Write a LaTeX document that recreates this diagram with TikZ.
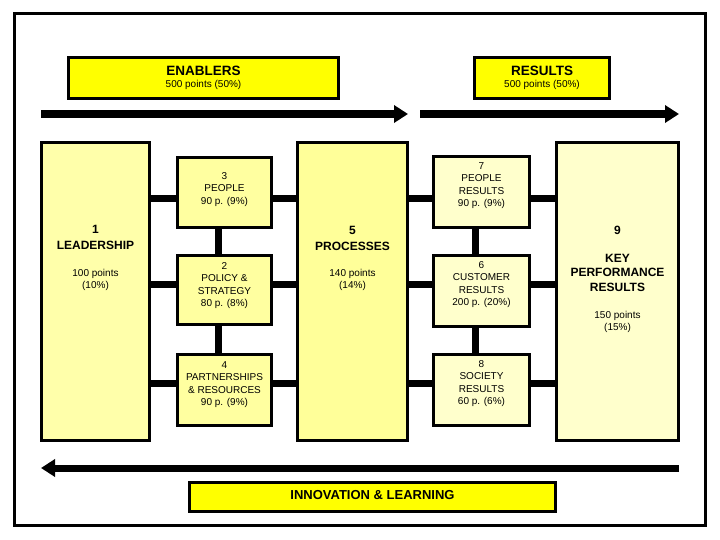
\documentclass[tikz,border=0pt]{standalone}
\usepackage{fontspec}
\setmainfont{Liberation Sans}
\usetikzlibrary{arrows.meta}
\definecolor{hdryellow}{HTML}{FFFF00}
\definecolor{leadc}{HTML}{FFFFAA}
\definecolor{procc}{HTML}{FFFF99}
\definecolor{kprc}{HTML}{FFFFCC}
\definecolor{lsmall}{HTML}{FFFFA0}
\definecolor{rsmall}{HTML}{FFFFCC}
\begin{document}
\begin{tikzpicture}[x=1pt,y=-1pt,
  outerframe/.style={draw, line width=3pt},
  hdrbox/.style={draw, line width=2.5pt, fill=hdryellow, inner sep=0pt},
  colbox/.style={draw, line width=3pt, inner sep=0pt, minimum height=297pt},
  smallbox/.style={draw, line width=3pt, inner sep=0pt, minimum width=94pt},
  conn/.style={line width=7pt},
  bigarrow/.style={line width=8pt, -{Triangle[length=14pt,width=17pt]}},
  smalltxt/.style={font=\fontsize{10}{12.3}\selectfont, align=center, inner sep=0pt, anchor=north},
  pointstxt/.style={font=\fontsize{10}{12}\selectfont, align=center, inner sep=0pt, anchor=north},
  titletxt/.style={font=\fontsize{12}{16}\selectfont\bfseries, align=center, inner sep=0pt, anchor=north},
  hdrtxt/.style={font=\fontsize{13.5}{16}\selectfont\bfseries, inner sep=0pt, anchor=north}
]
\useasboundingbox (0,0) rectangle (720,540);
\fill[white] (0,0) rectangle (720,540);
\draw[outerframe] (14,14) rectangle (705,525);

% header boxes
\node[hdrbox, minimum width=270pt, minimum height=41pt] (enab) at (203.5,78) {};
\node[hdrtxt] (enabt) at (203.5,66.2) {ENABLERS};
\node[smalltxt] (enabp) at (203.5,80.4) {500 points (50\%)};
\node[hdrbox, minimum width=135pt, minimum height=41pt] (res) at (542,78) {};
\node[hdrtxt] (rest) at (542,66.2) {RESULTS};
\node[smalltxt] (resp) at (542,80.4) {500 points (50\%)};

% top arrows
\coordinate (a1s) at (41,114);
\coordinate (a1e) at (408,114);
\coordinate (a2s) at (420,114);
\coordinate (a2e) at (679,114);
\draw[bigarrow] (a1s) -- (a1e);
\draw[bigarrow] (a2s) -- (a2e);

% columns
\node[colbox, fill=leadc, minimum width=108pt] (lead) at (95.5,291.5) {};
\node[colbox, fill=procc, minimum width=110pt] (proc) at (352.5,291.5) {};
\node[colbox, fill=kprc, minimum width=122pt] (kpr) at (617.5,291.5) {};

\node[titletxt] at (95.5,224.7) {1\\LEADERSHIP};
\node[pointstxt] at (95.5,269.4) {100 points\\(10\%)};
\node[titletxt] at (352.5,225.7) {5\\PROCESSES};
\node[pointstxt] at (352.5,269.4) {140 points\\(14\%)};
\node[titletxt] at (617.5,225.7) {9};
\node[titletxt, font=\fontsize{12}{14.5}\selectfont\bfseries] at (617.5,253.7) {KEY\\PERFORMANCE\\RESULTS};
\node[pointstxt] at (617.5,311.4) {150 points\\(15\%)};

% small enabler boxes
\node[smallbox, fill=lsmall, minimum height=70pt] (p3) at (224.5,192.5) {};
\node[smallbox, fill=lsmall, minimum height=69pt] (p2) at (224.5,290) {};
\node[smallbox, fill=lsmall, minimum height=71pt] (p4) at (224.5,390) {};
\node[smalltxt] at (224.5,172.4) {3\\PEOPLE\\90 p. (9\%)};
\node[smalltxt] at (224.5,262.4) {2\\POLICY \&\\STRATEGY\\80 p. (8\%)};
\node[smalltxt] at (224.5,361.4) {4\\PARTNERSHIPS\\\& RESOURCES\\90 p. (9\%)};

% small result boxes
\node[smallbox, fill=rsmall, minimum width=96pt, minimum height=71pt] (r7) at (481.5,192) {};
\node[smallbox, fill=rsmall, minimum width=96pt, minimum height=71pt] (r6) at (481.5,291) {};
\node[smallbox, fill=rsmall, minimum width=96pt, minimum height=71pt] (r8) at (481.5,390) {};
\node[smalltxt] at (481.5,162.4) {7\\PEOPLE\\RESULTS\\90 p. (9\%)};
\node[smalltxt] at (481.5,261.4) {6\\CUSTOMER\\RESULTS\\200 p. (20\%)};
\node[smalltxt] at (481.5,360.4) {8\\SOCIETY\\RESULTS\\60 p. (6\%)};

% connector rows and columns
\coordinate (row1) at (0,199);
\coordinate (row2) at (0,284);
\coordinate (row3) at (0,383);
\coordinate (colL) at (218,0);
\coordinate (colR) at (475,0);

\draw[conn] (row1 -| lead.east) -- (row1 -| p3.west);
\draw[conn] (row2 -| lead.east) -- (row2 -| p2.west);
\draw[conn] (row3 -| lead.east) -- (row3 -| p4.west);
\draw[conn] (row1 -| p3.east) -- (row1 -| proc.west);
\draw[conn] (row2 -| p2.east) -- (row2 -| proc.west);
\draw[conn] (row3 -| p4.east) -- (row3 -| proc.west);
\draw[conn] (p3.south -| colL) -- (p2.north -| colL);
\draw[conn] (p2.south -| colL) -- (p4.north -| colL);

\draw[conn] (row1 -| proc.east) -- (row1 -| r7.west);
\draw[conn] (row2 -| proc.east) -- (row2 -| r6.west);
\draw[conn] (row3 -| proc.east) -- (row3 -| r8.west);
\draw[conn] (row1 -| r7.east) -- (row1 -| kpr.west);
\draw[conn] (row2 -| r6.east) -- (row2 -| kpr.west);
\draw[conn] (row3 -| r8.east) -- (row3 -| kpr.west);
\draw[conn] (r7.south -| colR) -- (r6.north -| colR);
\draw[conn] (r6.south -| colR) -- (r8.north -| colR);

% bottom arrow
\coordinate (a3s) at (679,468);
\coordinate (a3e) at (41,468);
\draw[bigarrow, line width=7pt] (a3s) -- (a3e);

% innovation box
\node[hdrbox, minimum width=366pt, minimum height=29pt] (innov) at (372.5,497) {};
\node[font=\fontsize{13}{15}\selectfont\bfseries, inner sep=0pt] (innovt) at (372.5,495) {INNOVATION \& LEARNING};
\end{tikzpicture}
\end{document}
